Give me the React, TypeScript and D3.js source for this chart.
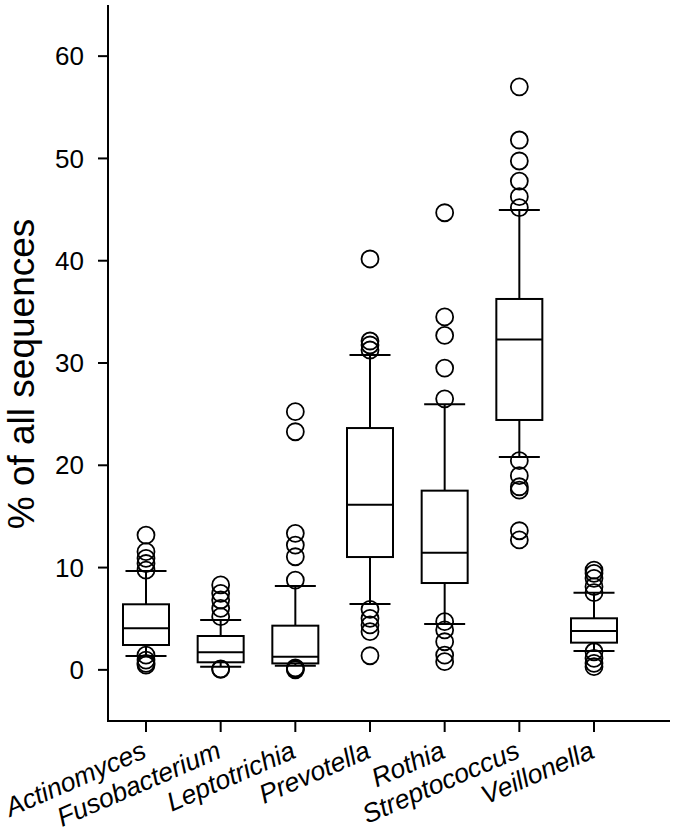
import React from "react";
import * as d3 from "d3";

const categories = ["Actinomyces", "Fusobacterium", "Leptotrichia", "Prevotella", "Rothia", "Streptococcus", "Veillonella"];
const q1 = [2.43, 0.74, 0.63, 11.03, 8.49, 24.43, 2.66];
const medians = [4.06, 1.72, 1.29, 16.15, 11.45, 32.3, 3.8];
const q3 = [6.41, 3.31, 4.32, 23.64, 17.52, 36.26, 5.04];
const whiskerLow = [1.35, 0.31, 0.41, 6.44, 4.48, 20.81, 1.84];
const whiskerHigh = [9.66, 4.87, 8.2, 30.78, 25.96, 44.96, 7.55];
const outliers = [
  [13.18, 11.55, 10.9, 10.4, 9.76, 1.45, 0.96, 0.64, 0.47],
  [8.3, 7.48, 6.83, 6.02, 5.2, 0.1, 0.05],
  [25.24, 23.28, 13.35, 12.2, 11.06, 8.78, 0.2, 0.1, 0.0],
  [40.17, 32.15, 31.76, 31.27, 5.92, 5.04, 4.39, 3.73, 1.38],
  [44.69, 34.5, 32.7, 29.5, 26.5, 4.71, 3.9, 2.75, 1.45, 0.8],
  [57.0, 51.8, 49.75, 47.79, 46.26, 45.2, 20.45, 18.98, 17.9, 17.58, 13.6, 12.7],
  [9.76, 9.44, 8.95, 8.13, 7.55, 1.77, 1.13, 0.64, 0.31],
];
const yTicks = [0, 10, 20, 30, 40, 50, 60];
const yLabel = "% of all sequences";

const W = 675;
const H = 838;
const FONT = "'Liberation Sans', Arial, Helvetica, sans-serif";

export default function App() {
  const y = d3.scaleLinear().domain([-5, 65]).range([721, 5]);
  const x = d3.scalePoint<string>().domain(categories).range([146, 594]);
  const axisX0 = 108;
  const axisX1 = 670;
  const axisY = y(-5);
  const boxW = 46;
  const capW = 41;
  const sw = 2;

  return (
    <svg width={W} height={H} style={{ position: "absolute", left: 0, top: 0, background: "#fff" }}>
      <rect x={0} y={0} width={W} height={H} fill="#fff" />
      {/* axes */}
      <line x1={axisX0} x2={axisX0} y1={y(65)} y2={axisY + 1} stroke="#000" strokeWidth={sw} />
      <line x1={axisX0 - 1} x2={axisX1} y1={axisY} y2={axisY} stroke="#000" strokeWidth={sw} />
      {yTicks.map((t) => (
        <g key={t}>
          <line x1={axisX0 - 10} x2={axisX0} y1={y(t)} y2={y(t)} stroke="#000" strokeWidth={sw} />
          <text x={84} y={y(t)} dy="0.35em" textAnchor="end" fontFamily={FONT} fontSize={26} fill="#000">
            {t}
          </text>
        </g>
      ))}
      {categories.map((c) => (
        <g key={c}>
          <line x1={x(c)} x2={x(c)} y1={axisY} y2={axisY + 11} stroke="#000" strokeWidth={sw} />
          <text
            transform={`translate(${(x(c) as number) + 2},${757}) rotate(-23.5)`}
            textAnchor="end"
            fontFamily={FONT}
            fontStyle="italic"
            fontSize={26.5}
            fill="#000"
          >
            {c}
          </text>
        </g>
      ))}
      <text
        transform={`translate(34,${374}) rotate(-90)`}
        textAnchor="middle"
        fontFamily={FONT}
        fontSize={37}
        fill="#000"
      >
        {yLabel}
      </text>
      {/* boxes */}
      {categories.map((c, i) => {
        const cx = x(c) as number;
        return (
          <g key={c} stroke="#000" strokeWidth={sw} fill="none">
            <line x1={cx} x2={cx} y1={y(q3[i])} y2={y(whiskerHigh[i])} />
            <line x1={cx} x2={cx} y1={y(q1[i])} y2={y(whiskerLow[i])} />
            <line x1={cx - capW / 2} x2={cx + capW / 2} y1={y(whiskerHigh[i])} y2={y(whiskerHigh[i])} />
            <line x1={cx - capW / 2} x2={cx + capW / 2} y1={y(whiskerLow[i])} y2={y(whiskerLow[i])} />
            <rect x={cx - boxW / 2} y={y(q3[i])} width={boxW} height={y(q1[i]) - y(q3[i])} fill="#fff" />
            <line x1={cx - boxW / 2} x2={cx + boxW / 2} y1={y(medians[i])} y2={y(medians[i])} />
            {outliers[i].map((v, j) => (
              <circle key={j} cx={cx} cy={y(v)} r={8.5} fill="none" strokeWidth={1.8} />
            ))}
          </g>
        );
      })}
    </svg>
  );
}
